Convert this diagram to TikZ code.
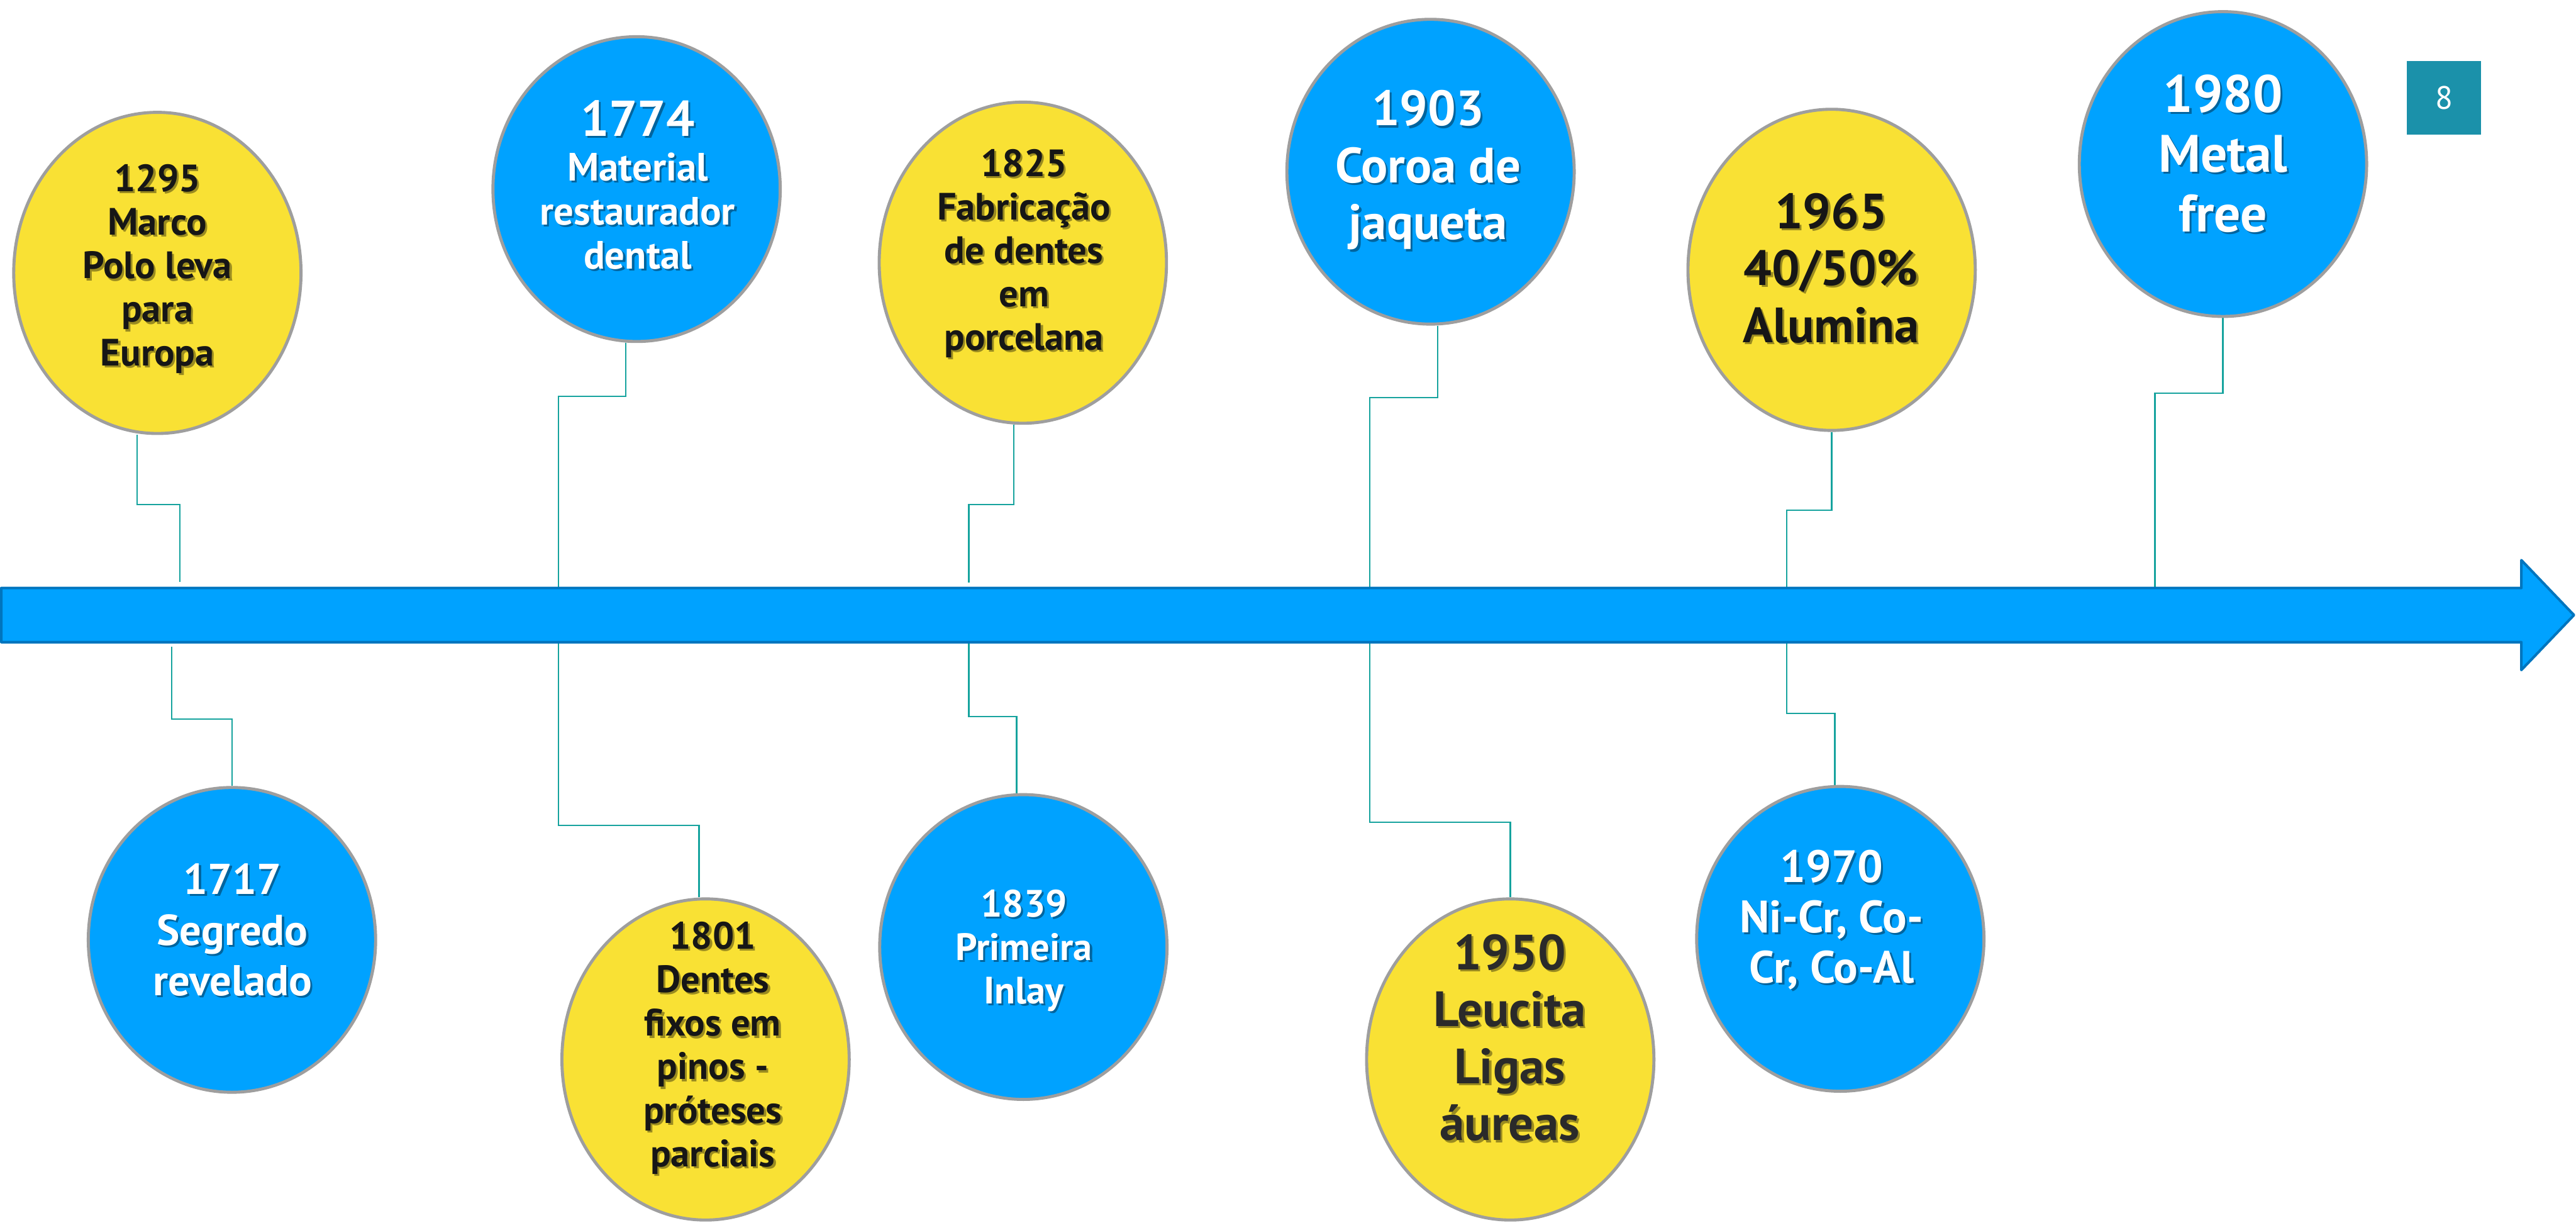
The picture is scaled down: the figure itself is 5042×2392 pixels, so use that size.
\documentclass[tikz,border=0pt]{standalone}
\usepackage{fontspec}
\setmainfont{PT Sans}
\usetikzlibrary{shapes.geometric,calc}
\definecolor{tlblue}{RGB}{0,162,255}
\definecolor{tlborder}{RGB}{0,117,190}
\definecolor{tlyellow}{RGB}{249,225,52}
\definecolor{tlgrey}{RGB}{158,158,158}
\definecolor{tlteal}{RGB}{22,163,158}
\definecolor{pagebox}{RGB}{27,145,170}
\definecolor{darktext}{RGB}{22,22,22}
\definecolor{greytext}{RGB}{42,42,42}
\pgfdeclarelayer{back}
\pgfdeclarelayer{under}
\pgfsetlayers{back,under,main}
\tikzset{
  event/.style={ellipse, draw=tlgrey, line width=0.06cm, inner sep=0pt, minimum width=5.62cm},
  tallev/.style={event, minimum height=6.28cm},
  shortev/.style={event, minimum height=5.96cm},
  bluev/.style={fill=tlblue},
  yellowv/.style={fill=tlyellow},
  conn/.style={draw=tlteal, line width=0.03cm},
  evtext/.style={anchor=north, align=center, inner sep=0pt},
  fsA/.style={font=\bfseries\fontsize{21.2pt}{24.2pt}\selectfont},
  fsB/.style={font=\bfseries\fontsize{24pt}{28.2pt}\selectfont},
  fsC/.style={font=\bfseries\fontsize{25.2pt}{27.9pt}\selectfont},
  fsD/.style={font=\bfseries\fontsize{27.6pt}{31.7pt}\selectfont},
  fsE/.style={font=\bfseries\fontsize{29.3pt}{33.3pt}\selectfont},
  fsF/.style={font=\bfseries\fontsize{22pt}{24.6pt}\selectfont},
}
\newcommand\evtxt[5]{%
  \node[evtext,#4,text=black,text opacity=0.38] (#1s) at ($#2+(4,4)$) {#5};
  \node[evtext,#4,text=#3] (#1) at #2 {#5};}
\begin{document}
\begin{tikzpicture}[x=0.01cm,y=-0.01cm]
\useasboundingbox (0,0) rectangle (5042,2392);
\begin{pgfonlayer}{back}
\fill[white] (0,0) rectangle (5042,2392);
\end{pgfonlayer}

% event ellipses
\node[tallev,yellowv]  (e1295) at (308,534) {};
\node[shortev,bluev]   (e1774) at (1246,370) {};
\node[tallev,yellowv]  (e1825) at (2002,514) {};
\node[shortev,bluev]   (e1903) at (2800,336) {};
\node[tallev,yellowv]  (e1965) at (3585,528) {};
\node[shortev,bluev]   (e1980) at (4351,321) {};
\node[shortev,bluev]   (e1717) at (454,1839) {};
\node[tallev,yellowv]  (e1801) at (1381,2073) {};
\node[shortev,bluev]   (e1839) at (2003,1853) {};
\node[tallev,yellowv]  (e1950) at (2956,2073) {};
\node[shortev,bluev]   (e1970) at (3602,1837) {};

% texts
\evtxt{t1295}{(308,321)}{darktext}{fsA}{1295\\Marco\\Polo leva\\para\\Europa}
\evtxt{t1774}{(1248,196)}{white}{fsF}{{\fontsize{28pt}{24.6pt}\selectfont 1774}\\Material\\restaurador\\dental}
\evtxt{t1825}{(2004,291)}{darktext}{fsA}{1825\\Fabricação\\de dentes\\em\\porcelana}
\evtxt{t1903}{(2795,176)}{white}{fsD}{1903\\Coroa de\\jaqueta}
\evtxt{t1965}{(3584,377)}{darktext}{fsD}{1965\\40/50\%\\Alumina}
\evtxt{t1980}{(4351,145)}{white}{fsE}{1980\\Metal\\free}
\evtxt{t1717}{(455,1689)}{white}{fsB}{1717\\Segredo\\revelado}
\evtxt{t1801}{(1395,1803)}{darktext}{fsA}{1801\\Dentes\\fixos em\\pinos -\\próteses\\parciais}
\evtxt{t1839}{(2004,1740)}{white}{fsA}{1839\\Primeira\\Inlay}
\evtxt{t1950}{(2955,1827)}{greytext}{fsD}{1950\\Leucita\\Ligas\\áureas}
\evtxt{t1970}{(3585,1663)}{white}{fsC}{1970\\Ni-Cr, Co-\\Cr, Co-Al}

% page number
\node[fill=pagebox, minimum width=1.45cm, minimum height=1.45cm, inner sep=0pt,
      text=white, font=\fontsize{18pt}{20pt}\selectfont] (page) at (4783.5,191.5) {8};

% connector ends at the time axis
\coordinate (c1295) at (352,1139);
\coordinate (c1717) at (336,1265);
\coordinate (c1825) at (1896,1140);
\coordinate (c1839) at (1896,1259);
\coordinate (c1965) at (3497,1148);
\coordinate (c1970) at (3497,1257);
\coordinate (c1980) at (4218,1148);

\begin{pgfonlayer}{under}
\draw[conn] ($(e1295.south)+(-40,0)$) -- ++(0,136) -| (c1295);
\draw[conn] ($(e1774.south)+(-21,0)$) -- ++(0,104) -- ++(-132,0) -- ++(0,840) -| ($(e1801.north)+(-13,0)$);
\draw[conn] ($(e1825.south)+(-18,0)$) -- ++(0,156) -| (c1825);
\draw[conn] (c1839) -- ++(0,143) -| ($(e1839.north)+(-13,0)$);
\draw[conn] ($(e1903.south)+(14,0)$) -- ++(0,141) -- ++(-133,0) -- ++(0,831) -| (e1950.north);
\draw[conn] (e1965.south) -- ++(0,153) -| (c1965);
\draw[conn] (c1970) -- ++(0,139) -| ($(e1970.north)+(-11,0)$);
\draw[conn] (e1980.south) -- ++(0,147) -| (c1980);
\draw[conn] (c1717) -- ++(0,142) -| (e1717.north);
% time axis arrow
\draw[fill=tlblue, draw=tlborder, line width=0.05cm, line join=round]
  (2.5,1150.5) -- (4935,1150.5) -- (4935,1096) -- (5038,1203.5)
  -- (4935,1311) -- (4935,1256.5) -- (2.5,1256.5) -- cycle;
\end{pgfonlayer}
\end{tikzpicture}
\end{document}
